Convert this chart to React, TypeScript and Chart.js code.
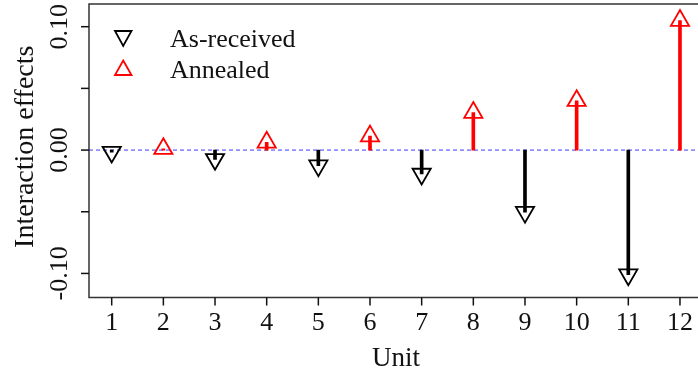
import React, { useEffect, useRef } from "react";
import { Chart, registerables } from "chart.js";

Chart.register(...registerables);

const units = [1, 2, 3, 4, 5, 6, 7, 8, 9, 10, 11, 12];
const asReceivedUnits = [1, 3, 5, 7, 9, 11];
const asReceivedValues = [-0.0016, -0.0075, -0.0126, -0.0194, -0.0503, -0.101];
const annealedUnits = [2, 4, 6, 8, 10, 12];
const annealedValues = [0.0011, 0.0063, 0.0113, 0.0304, 0.04, 0.105];
const yTickValues = [-0.1, -0.05, 0, 0.05, 0.1];
const yTickLabels = ["-0.10", "", "0.00", "", "0.10"];
const xTickLabels = units.map((u) => String(u));
const legendLabels = ["As-received", "Annealed"];
const xTitle = "Unit";
const yTitle = "Interaction effects";

const FONT = "'Liberation Serif', 'Times New Roman', serif";

const axesPlugin = {
  id: "rAxes",
  beforeDatasetsDraw(chart: any) {
    const { ctx, chartArea, scales } = chart;
    const y0 = scales.y.getPixelForValue(0);
    ctx.save();
    ctx.strokeStyle = "#3a3aff";
    ctx.lineWidth = 1;
    ctx.setLineDash([4, 3]);
    ctx.beginPath();
    ctx.moveTo(chartArea.left, y0);
    ctx.lineTo(chartArea.right, y0);
    ctx.stroke();
    ctx.restore();
  },
  afterDraw(chart: any) {
    const { ctx, chartArea, scales } = chart;
    const { left, top, right, bottom } = chartArea;
    ctx.save();
    // box
    ctx.strokeStyle = "#333";
    ctx.lineWidth = 1.5;
    ctx.beginPath();
    ctx.moveTo(right + 5, top);
    ctx.lineTo(left, top);
    ctx.lineTo(left, bottom);
    ctx.lineTo(right + 5, bottom);
    ctx.stroke();

    // x ticks
    ctx.strokeStyle = "#111";
    ctx.fillStyle = "#111";
    ctx.font = `26px ${FONT}`;
    ctx.textAlign = "center";
    ctx.textBaseline = "alphabetic";
    units.forEach((u, i) => {
      const x = scales.x.getPixelForValue(u);
      ctx.beginPath();
      ctx.moveTo(x, bottom);
      ctx.lineTo(x, bottom + 8);
      ctx.stroke();
      ctx.fillText(xTickLabels[i], x, bottom + 32);
    });

    // y ticks
    yTickValues.forEach((v, i) => {
      const y = scales.y.getPixelForValue(v);
      ctx.beginPath();
      ctx.moveTo(left, y);
      ctx.lineTo(left - 8, y);
      ctx.stroke();
      if (yTickLabels[i]) {
        ctx.save();
        ctx.translate(left - 22, y);
        ctx.rotate(-Math.PI / 2);
        ctx.textAlign = "center";
        ctx.fillText(yTickLabels[i], 0, 0);
        ctx.restore();
      }
    });

    // titles
    ctx.font = `27px ${FONT}`;
    ctx.textAlign = "center";
    ctx.fillText(xTitle, (left + right + 5) / 2, bottom + 68);
    ctx.save();
    ctx.translate(33, (top + bottom) / 2 - 4);
    ctx.rotate(-Math.PI / 2);
    ctx.font = `28px ${FONT}`;
    ctx.fillText(yTitle, 0, 0);
    ctx.restore();

    // legend
    ctx.lineWidth = 1.8;
    ctx.strokeStyle = "#000";
    ctx.beginPath();
    ctx.moveTo(115, 31);
    ctx.lineTo(131.5, 31);
    ctx.lineTo(123.2, 46);
    ctx.closePath();
    ctx.stroke();
    ctx.strokeStyle = "#ff0000";
    ctx.beginPath();
    ctx.moveTo(123.2, 60.5);
    ctx.lineTo(131.5, 75);
    ctx.lineTo(115, 75);
    ctx.closePath();
    ctx.stroke();
    ctx.fillStyle = "#111";
    ctx.font = `26px ${FONT}`;
    ctx.textAlign = "left";
    ctx.fillText(legendLabels[0], 170, 46.5);
    ctx.fillText(legendLabels[1], 170, 78);
    ctx.restore();
  },
};

export default function App() {
  const ref = useRef<HTMLCanvasElement | null>(null);
  useEffect(() => {
    if (!ref.current) return;
    const arData = asReceivedUnits.map((u, i) => ({ x: u, y: asReceivedValues[i] }));
    const anData = annealedUnits.map((u, i) => ({ x: u, y: annealedValues[i] }));
    const chart = new Chart(ref.current, {
      type: "scatter",
      data: {
        datasets: [
          {
            type: "bar",
            label: "stems-ar",
            data: arData,
            backgroundColor: "#000",
            borderWidth: 0,
            barThickness: 3,
            grouped: false,
          } as any,
          {
            type: "bar",
            label: "stems-an",
            data: anData,
            backgroundColor: "#ff0000",
            borderWidth: 0,
            barThickness: 3,
            grouped: false,
          } as any,
          {
            type: "scatter",
            label: legendLabels[0],
            data: arData,
            pointStyle: "triangle",
            rotation: 180,
            pointRadius: 10.5,
            borderColor: "#000",
            backgroundColor: "rgba(0,0,0,0)",
            borderWidth: 1.8,
            clip: false,
          } as any,
          {
            type: "scatter",
            label: legendLabels[1],
            data: anData,
            pointStyle: "triangle",
            pointRadius: 10.5,
            borderColor: "#ff0000",
            backgroundColor: "rgba(0,0,0,0)",
            borderWidth: 1.8,
            clip: false,
          } as any,
        ],
      },
      options: {
        responsive: false,
        animation: false,
        devicePixelRatio: 1,
        layout: { autoPadding: false, padding: { left: 89, top: 4, right: 0, bottom: 75.5 } },
        plugins: { legend: { display: false }, tooltip: { enabled: false } },
        scales: {
          x: { type: "linear", min: 0.5606, max: 12.349, display: false, offset: false },
          y: { type: "linear", min: -0.1195, max: 0.1184, display: false },
        },
      },
      plugins: [axesPlugin],
    });
    return () => chart.destroy();
  }, []);
  return (
    <div style={{ position: "absolute", left: 0, top: 0, width: 698, height: 373, background: "#fff" }}>
      <canvas ref={ref} width={698} height={373} style={{ display: "block" }} />
    </div>
  );
}
